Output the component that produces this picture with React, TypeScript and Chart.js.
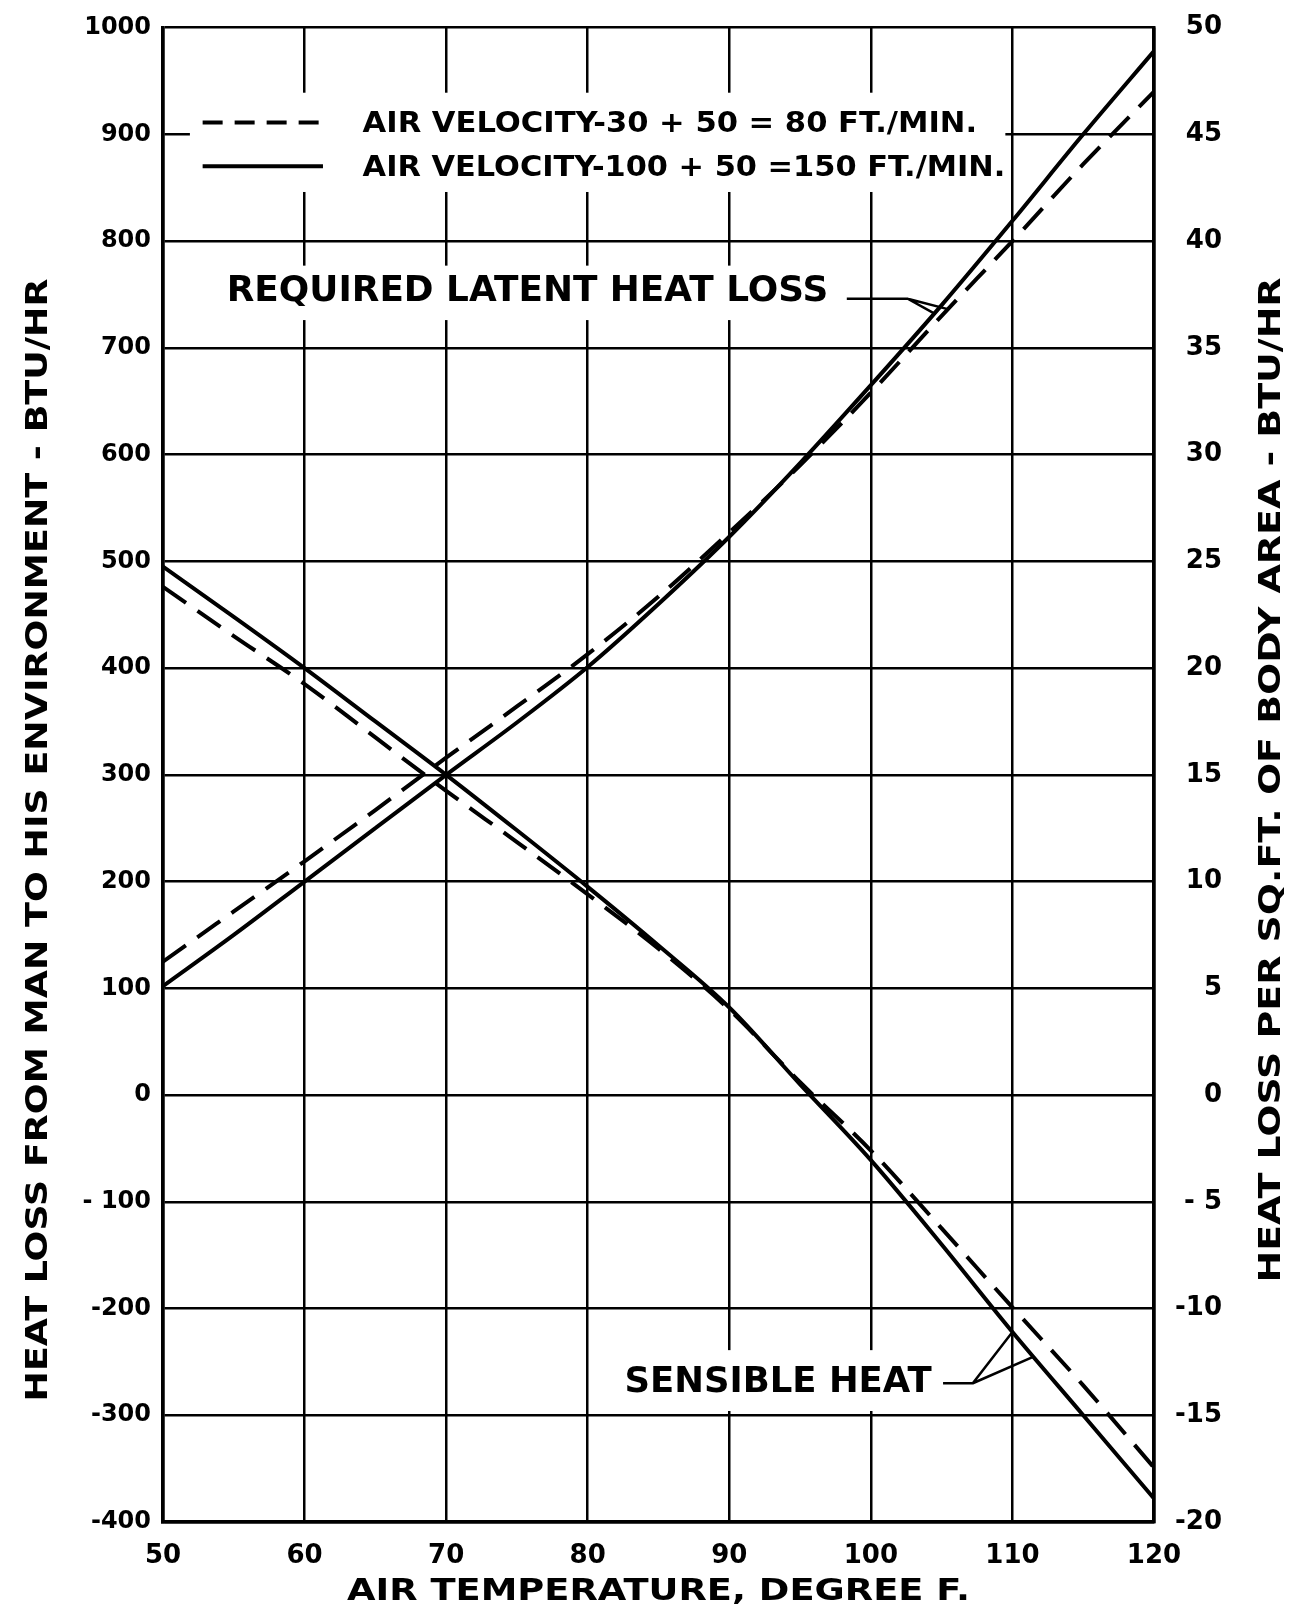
import React, { useEffect, useRef } from 'react';
import { Chart, registerables } from 'chart.js';

Chart.register(...registerables);

// ---- data ----
const temperatures = [50, 55, 60, 65, 70, 75, 80, 85, 90, 95, 100, 105, 110, 115, 120];
// Required latent heat loss
const latent150 = [102, 150, 200, 250, 300, 349, 401, 460, 523, 592, 665, 740, 819, 900, 978];
const latent80 = [125, 172, 219, 267, 316, 364, 413, 467, 527, 590, 658, 730, 800, 872, 940];
// Sensible heat
const sensible150 = [495, 448, 400, 350, 300, 248, 195, 140, 82, 10, -61, -140, -222, -300, -378];
const sensible80 = [476, 430, 385, 335, 285, 237, 188, 137, 80, 12, -52, -125, -199, -272, -349];

const xTickValues = [50, 60, 70, 80, 90, 100, 110, 120];
const leftTickLabels: Record<string, string> = { '-100': '- 100' };
const rightTickLabels: Record<string, string> = { '-5': '- 5' };

const legendLabels = [
  'AIR VELOCITY-30 + 50 = 80 FT./MIN.',
  'AIR VELOCITY-100 + 50 =150 FT./MIN.',
];
const leftTitle = 'HEAT LOSS FROM MAN TO HIS ENVIRONMENT - BTU/HR';
const rightTitle = 'HEAT LOSS PER SQ.FT. OF BODY AREA - BTU/HR';
const bottomTitle = 'AIR TEMPERATURE, DEGREE F.';
const latentLabel = 'REQUIRED LATENT HEAT LOSS';
const sensibleLabel = 'SENSIBLE HEAT';

const FONT = '"DejaVu Sans"';

function toPoints(values: number[]) {
  return temperatures.map((t, i) => ({ x: t, y: values[i] }));
}

function fitText(
  ctx: CanvasRenderingContext2D,
  text: string,
  cx: number,
  cy: number,
  width: number,
  size: number,
  rotate = 0,
  align: 'center' | 'left' = 'center'
) {
  ctx.save();
  ctx.font = `bold ${size}px ${FONT}`;
  const w = ctx.measureText(text).width;
  ctx.translate(cx, cy);
  if (rotate) ctx.rotate(rotate);
  ctx.scale(width / w, 1);
  ctx.textAlign = align;
  ctx.textBaseline = 'middle';
  ctx.fillStyle = '#000';
  ctx.fillText(text, 0, 0);
  ctx.restore();
}

const decorPlugin = {
  id: 'decor',
  beforeDatasetsDraw(chart: any) {
    const ctx: CanvasRenderingContext2D = chart.ctx;
    const xs = chart.scales.x;
    const ys = chart.scales.y;
    const px = (v: number) => xs.getPixelForValue(v);
    const py = (v: number) => ys.getPixelForValue(v);
    ctx.save();
    ctx.fillStyle = '#fff';
    // legend box
    ctx.fillRect(px(51.9), py(939), px(109.5) - px(51.9), py(846) - py(939));
    // latent label box
    ctx.fillRect(px(53.7), py(777), px(97.8) - px(53.7), py(726) - py(777));
    // sensible label box
    ctx.fillRect(px(81.9), py(-239), px(104.9) - px(81.9), py(-296) - py(-239));
    ctx.restore();
  },
  afterDatasetsDraw(chart: any) {
    const ctx: CanvasRenderingContext2D = chart.ctx;
    const xs = chart.scales.x;
    const ys = chart.scales.y;
    const px = (v: number) => xs.getPixelForValue(v);
    const py = (v: number) => ys.getPixelForValue(v);
    ctx.save();
    ctx.strokeStyle = '#000';
    ctx.lineCap = 'butt';
    // legend samples
    ctx.lineWidth = 4;
    ctx.setLineDash([20, 12]);
    ctx.beginPath();
    ctx.moveTo(px(52.8), py(911));
    ctx.lineTo(px(61.3), py(911));
    ctx.stroke();
    ctx.setLineDash([]);
    ctx.beginPath();
    ctx.moveTo(px(52.8), py(870));
    ctx.lineTo(px(61.3), py(870));
    ctx.stroke();

    // leader lines
    ctx.lineWidth = 2.5;
    ctx.beginPath();
    ctx.moveTo(px(98.3), py(746));
    ctx.lineTo(px(102.6), py(746));
    ctx.lineTo(px(104.5), py(732));
    ctx.moveTo(px(102.6), py(746));
    ctx.lineTo(px(105.5), py(736));
    ctx.stroke();

    ctx.beginPath();
    ctx.moveTo(px(105.1), py(-270));
    ctx.lineTo(px(107.2), py(-270));
    ctx.lineTo(px(110.0), py(-222));
    ctx.moveTo(px(107.2), py(-270));
    ctx.lineTo(px(111.5), py(-245));
    ctx.stroke();
    ctx.restore();

    // legend text
    fitText(ctx, legendLabels[0], px(64.1), py(909), px(107.5) - px(64.1), 28, 0, 'left');
    fitText(ctx, legendLabels[1], px(64.1), py(868), px(109.5) - px(64.1), 28, 0, 'left');
    // annotation labels
    fitText(ctx, latentLabel, (px(54.5) + px(97.0)) / 2, py(752), px(97.0) - px(54.5), 35);
    fitText(ctx, sensibleLabel, (px(82.6) + px(104.3)) / 2, py(-270), px(104.3) - px(82.6), 35);
  },
  afterDraw(chart: any) {
    const ctx: CanvasRenderingContext2D = chart.ctx;
    const area = chart.chartArea;
    // axis titles
    fitText(ctx, leftTitle, 39, 840, 1123, 31, -Math.PI / 2);
    fitText(ctx, rightTitle, 1272, 780, 1005, 31, -Math.PI / 2);
    fitText(ctx, bottomTitle, (area.left + area.right) / 2, 1592, 623, 30);
  },
};

export default function App() {
  const canvasRef = useRef<HTMLCanvasElement | null>(null);

  useEffect(() => {
    document.body.style.margin = '0';
    document.body.style.overflow = 'hidden';
    const canvas = canvasRef.current;
    if (!canvas) return;
    Chart.defaults.font.family = FONT;
    Chart.defaults.color = '#000';

    const solid = { borderColor: '#000', borderWidth: 4, pointRadius: 0, fill: false, cubicInterpolationMode: 'monotone' as const };
    const dashed = { ...solid, borderDash: [28, 14] };

    const chart = new Chart(canvas, {
      type: 'line',
      data: {
        datasets: [
          { label: 'Latent 150', data: toPoints(latent150), ...solid },
          { label: 'Latent 80', data: toPoints(latent80), ...dashed },
          { label: 'Sensible 150', data: toPoints(sensible150), ...solid },
          { label: 'Sensible 80', data: toPoints(sensible80), ...dashed },
        ],
      },
      options: {
        animation: false,
        responsive: false,
        devicePixelRatio: 1,
        layout: { padding: { left: 0, right: 70, top: 25, bottom: 0 } },
        plugins: { legend: { display: false }, tooltip: { enabled: false } },
        scales: {
          x: {
            type: 'linear',
            min: 50,
            max: 120,
            afterBuildTicks: (s: any) => {
              s.ticks = xTickValues.map((v) => ({ value: v }));
            },
            afterFit: (s: any) => {
              s.height = 93;
            },
            ticks: { font: { size: 26, weight: 'bold' }, padding: 19, color: '#000', maxRotation: 0 },
            grid: { color: '#000', lineWidth: 2.5, drawTicks: false },
            border: { color: '#000', width: 3.5 },
          },
          y: {
            type: 'linear',
            position: 'left',
            min: -400,
            max: 1000,
            afterFit: (s: any) => {
              s.width = 163;
            },
            ticks: {
              stepSize: 100,
              font: { size: 24, weight: 'bold' },
              padding: 12,
              color: '#000',
              callback: (v: any) => leftTickLabels[String(v)] ?? String(v),
            },
            grid: { color: '#000', lineWidth: 2.5, drawTicks: false },
            border: { color: '#000', width: 3.5 },
          },
          y2: {
            type: 'linear',
            position: 'right',
            min: -20,
            max: 50,
            afterFit: (s: any) => {
              s.width = 68;
            },
            ticks: {
              stepSize: 5,
              font: { size: 26, weight: 'bold' },
              padding: 12,
              color: '#000',
              crossAlign: 'far',
              callback: (v: any) => rightTickLabels[String(v)] ?? String(v),
            },
            grid: { display: false, drawTicks: false },
            border: { color: '#000', width: 3.5 },
          },
        },
      },
      plugins: [decorPlugin],
    } as any);

    return () => chart.destroy();
  }, []);

  return (
    <div style={{ width: 1292, height: 1615, background: '#fff' }}>
      <canvas ref={canvasRef} width={1292} height={1615} style={{ display: 'block' }} />
    </div>
  );
}
